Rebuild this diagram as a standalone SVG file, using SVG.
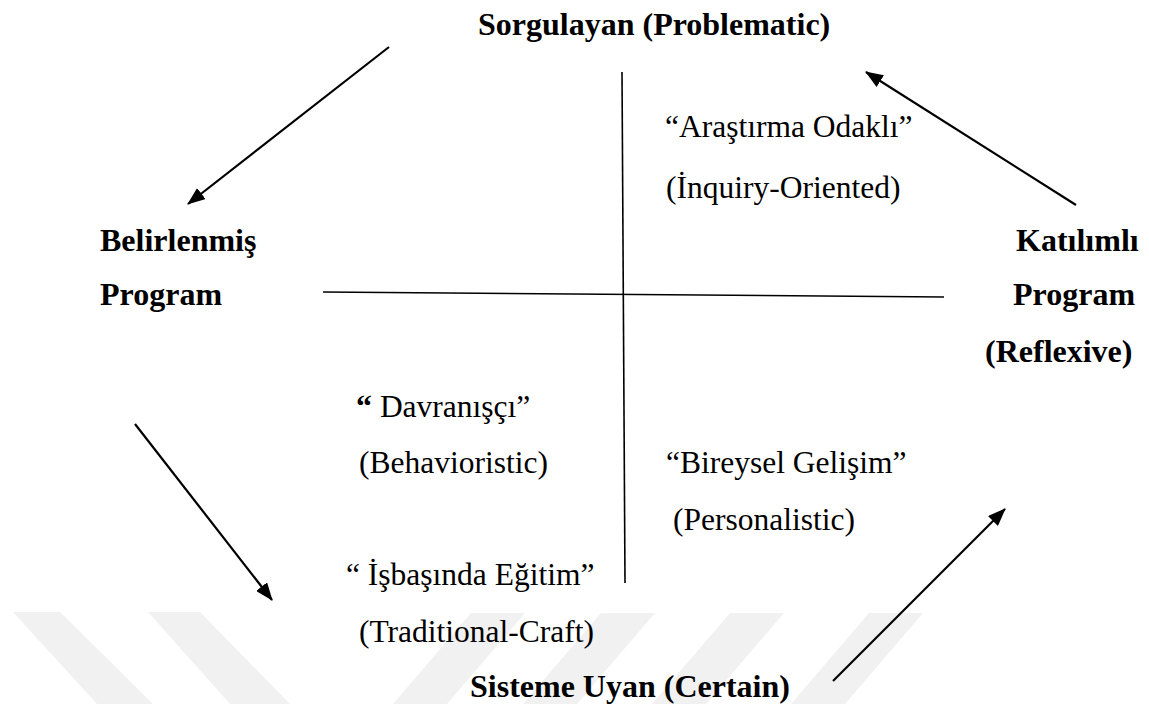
<svg xmlns="http://www.w3.org/2000/svg" width="1149" height="704" viewBox="0 0 1149 704">
<style>
  text { font-family: "Liberation Serif", "Tinos", "Times New Roman", "DejaVu Serif", serif; font-size: 31.5px; fill: #000; }
  .b { font-weight: bold; font-size: 32px; }
  .arrow { stroke: #000; stroke-width: 2.2; fill: none; marker-end: url(#ah); }
  .axis { stroke: #000; stroke-width: 1.6; fill: none; }
  .wm { fill: #f1f1f1; }
</style>
<defs>
  <marker id="ah" markerUnits="userSpaceOnUse" markerWidth="18" markerHeight="14" refX="17" refY="7" orient="auto">
    <path d="M0,0 L18,7 L0,14 z" fill="#000"/>
  </marker>
</defs>
<rect width="1149" height="704" fill="#fff"/>
<g id="watermark">
  <polygon class="wm" points="13,612 60,612 153,704 97,704"/>
  <polygon class="wm" points="148,612 200,612 290,704 230,704"/>
  <polygon class="wm" points="471,613 525,613 447,704 393,704"/>
  <polygon class="wm" points="601,613 655,613 577,704 523,704"/>
  <polygon class="wm" points="730,613 784,613 706,704 652,704"/>
  <polygon class="wm" points="869,613 923,613 845,704 791,704"/>
</g>
<g id="connectors">
  <line class="axis" x1="622" y1="72" x2="625" y2="583"/>
  <line class="axis" x1="323" y1="292" x2="944" y2="297"/>
  <line class="arrow" x1="389" y1="47" x2="188" y2="204"/>
  <line class="arrow" x1="1076" y1="205" x2="866" y2="72"/>
  <line class="arrow" x1="135" y1="424" x2="272" y2="600"/>
  <line class="arrow" x1="833" y1="681" x2="1005" y2="509"/>
</g>
<g id="top">
  <text class="b" x="478" y="35">Sorgulayan (Problematic)</text>
</g>
<g id="left">
  <text class="b" x="100" y="251">Belirlenmiş</text>
  <text class="b" x="100" y="305">Program</text>
</g>
<g id="right">
  <text class="b" x="1016" y="251">Katılımlı</text>
  <text class="b" x="1013" y="305">Program</text>
  <text class="b" x="985" y="362">(Reflexive)</text>
</g>
<g id="bottom">
  <text class="b" x="470" y="697">Sisteme Uyan (Certain)</text>
</g>
<g id="inquiry">
  <text x="665" y="137">“Araştırma Odaklı”</text>
  <text x="666" y="198">(İnquiry-Oriented)</text>
</g>
<g id="behavioristic">
  <text x="356" y="417"><tspan class="b">“</tspan> Davranışçı”</text>
  <text x="359" y="473">(Behavioristic)</text>
</g>
<g id="personalistic">
  <text x="666" y="473">“Bireysel Gelişim”</text>
  <text x="673" y="530">(Personalistic)</text>
</g>
<g id="traditional">
  <text x="346" y="585">“ İşbaşında Eğitim”</text>
  <text x="359" y="642">(Traditional-Craft)</text>
</g>
</svg>
